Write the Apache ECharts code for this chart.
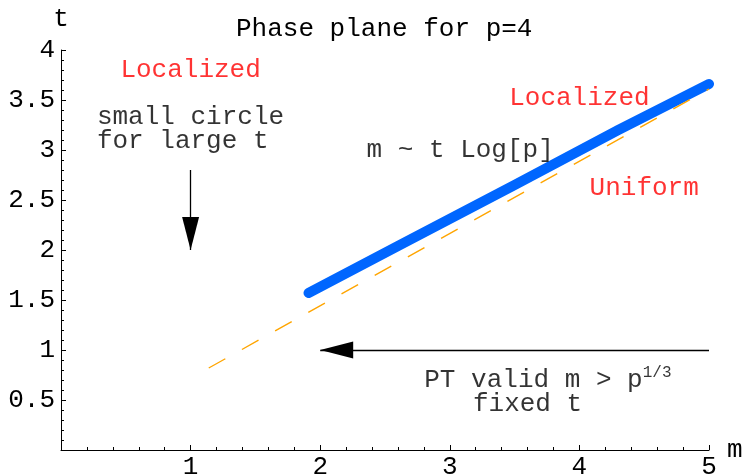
<!DOCTYPE html>
<html>
<head>
<meta charset="utf-8">
<script src="https://cdn.jsdelivr.net/npm/echarts@6/dist/echarts.min.js"></script>
<style>
  html, body { margin: 0; padding: 0; background: #fff; }
  #chart { width: 748px; height: 474px; }
</style>
</head>
<body>
<div id="chart"></div>
<script>
// Phase plane for p = 4: boundary curve, asymptote m ~ t Log[p], region labels
const titleText = 'Phase plane for p=4';
const xTicks = [1, 2, 3, 4, 5];
const yTicks = [0.5, 1, 1.5, 2, 2.5, 3, 3.5, 4];

// numerically found phase boundary (m, t)
const boundary = [[1.91, 1.57], [2.6, 2.04], [3.5, 2.65], [4.3, 3.2], [5.0, 3.66]];
// asymptote m ~ t Log[p]
const asymptote = [[1.14, 0.82], [5.0, 3.61]];

// arrows: [from, to]
const arrows = [
  [[5, 1], [2, 1]],
  [[1, 2.8], [1, 2.0]]
];

// text annotations: [m, t, text, colour, align]
const notes = [
  [1.0, 3.8, 'Localized', '#ff0000', 'center'],
  [4.0, 3.52, 'Localized', '#ff0000', 'center'],
  [4.5, 2.62, 'Uniform', '#ff0000', 'center'],
  [3.08, 3.0, 'm ~ t Log[p]', '#000', 'center'],
  [0.277, 3.33, 'small circle', '#000', 'left'],
  [0.277, 3.09, 'for large t', '#000', 'left'],
  [2.803, 0.70, 'PT valid m > p{sup|1/3}', '#000', 'left'],
  [3.6, 0.46, 'fixed t', '#000', 'center']
];

const FONT = '"Liberation Mono", "Courier New", monospace';
const chart = echarts.init(document.getElementById('chart'), null, { renderer: 'canvas' });

const axisCommon = {
  axisLine: { show: true, onZero: false, lineStyle: { color: '#000', width: 1 } },
  axisTick: { show: true, inside: true, length: 5, lineStyle: { color: '#000', width: 1 } },
  minorTick: { show: true, splitNumber: 5, length: 3, lineStyle: { color: '#000', width: 1 } },
  splitLine: { show: false },
  minorSplitLine: { show: false },
  nameTextStyle: { fontFamily: FONT, fontSize: 26, color: '#000' }
};

chart.setOption({
  animation: false,
  backgroundColor: '#fff',
  title: {
    text: titleText,
    left: 231, top: 11,
    textStyle: { fontFamily: FONT, fontSize: 26, fontWeight: 'normal', color: '#000' }
  },
  grid: { left: 61, right: 39, top: 50, bottom: 24, containLabel: false, outerBoundsMode: 'none' },
  xAxis: Object.assign({}, axisCommon, {
    type: 'value', min: 0, max: 5, interval: 1,
    name: 'm', nameLocation: 'end', nameGap: 18,
    axisLabel: {
      fontFamily: FONT, fontSize: 26, color: '#000', margin: 4,
      formatter: v => xTicks.includes(v) ? String(v) : ''
    }
  }),
  yAxis: Object.assign({}, axisCommon, {
    type: 'value', min: 0, max: 4, interval: 0.5,
    name: 't', nameLocation: 'end', nameGap: 18,
    axisLabel: {
      fontFamily: FONT, fontSize: 26, color: '#000', margin: 6,
      formatter: v => yTicks.includes(v) ? String(v) : ''
    }
  }),
  series: [
    {
      type: 'line', data: boundary, showSymbol: false, silent: true, z: 3,
      lineStyle: { color: '#0066ff', width: 10, cap: 'round', join: 'round' }
    },
    {
      type: 'line', data: asymptote, showSymbol: false, silent: true, z: 4,
      lineStyle: { color: '#ffa500', width: 1.4, type: [19, 19] }
    },
    {
      type: 'line', data: [], silent: true, z: 5,
      markLine: {
        silent: true, animation: false,
        symbol: ['none', 'triangle'],
        symbolSize: [17, 33],
        symbolOffset: [[0, 0], [0, 16.5]],
        label: { show: false },
        lineStyle: { color: '#000', width: 1.3, type: 'solid' },
        itemStyle: { color: '#000' },
        emphasis: { disabled: true },
        data: arrows.map(a => [{ coord: a[0] }, { coord: a[1] }])
      }
    },
    {
      type: 'scatter', silent: true, z: 6, symbolSize: 0,
      data: notes.map(n => ({
        value: [n[0], n[1]],
        label: {
          show: true, position: [0, 0], formatter: n[2],
          align: n[4], verticalAlign: 'middle',
          fontFamily: FONT, fontSize: 26, color: n[3],
          rich: { sup: { fontFamily: FONT, fontSize: 16, color: n[3], verticalAlign: 'top', padding: [0, 0, 14, 0] } }
        }
      }))
    }
  ]
});
</script>
</body>
</html>
